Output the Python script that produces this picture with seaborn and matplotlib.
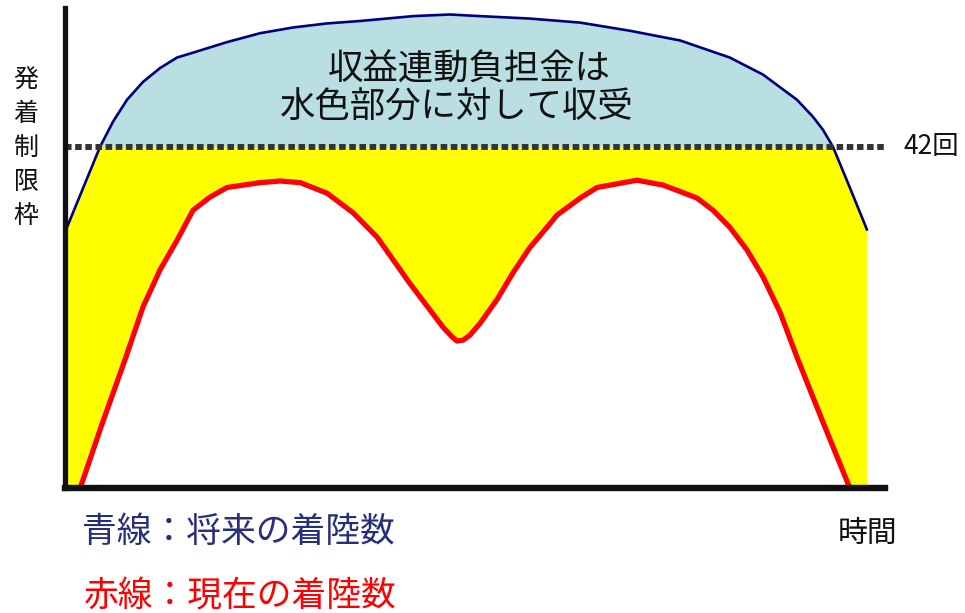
import numpy as np
import pandas as pd
import matplotlib
matplotlib.use("Agg")
import matplotlib.pyplot as plt
import seaborn as sns

# Time axis (arbitrary units, 0 = start of day, 100 = end of day)
future_t = [0.0, 4.375, 6.0, 7.75, 9.75, 11.875, 14.0, 16.0, 20.25, 24.4,
            28.5, 32.75, 36.9, 43.5, 48.1, 51.9, 58.1, 64.4, 70.6, 76.9,
            83.1, 87.25, 91.5, 93.5, 94.75, 96.0, 98.1, 100.25]
# Blue line: future landing count
future_v = [31.5, 42.0, 45.1, 47.8, 50.0, 51.7, 53.0, 53.6, 54.9, 56.0,
            56.7, 57.2, 57.5, 58.1, 58.3, 58.1, 57.8, 57.3, 56.3, 55.1,
            53.0, 50.9, 47.8, 45.7, 44.1, 42.0, 37.0, 31.8]

current_t = [1.9, 4.6, 7.5, 9.75, 11.9, 14.0, 16.0, 18.1, 20.25, 24.4,
             26.9, 29.4, 32.75, 36.0, 39.0, 43.1, 47.25, 48.4, 49.0, 49.75,
             50.6, 51.9, 54.0, 56.0, 58.1, 60.25, 61.5, 64.4, 66.5, 71.5,
             74.75, 76.9, 79.0, 81.0, 83.1, 85.25, 87.25, 89.4, 91.5, 94.75,
             98.1]
# Red line: current landing count
current_v = [0.0, 7.8, 15.8, 22.3, 26.9, 30.5, 34.2, 35.8, 37.0, 37.6,
             37.8, 37.6, 36.3, 33.9, 30.9, 25.2, 19.8, 18.6, 18.1, 18.2,
             18.8, 20.3, 23.2, 26.5, 29.6, 32.1, 33.6, 35.7, 37.0, 37.9,
             37.3, 36.5, 35.7, 34.2, 32.1, 29.3, 26.0, 21.6, 16.1, 8.1,
             0.0]

cap_value = 42
cap_label = "42回"
y_label = "発着制限枠"
x_label = "時間"
note_lines = ["収益連動負担金は", "水色部分に対して収受"]
legend_blue = "青線：将来の着陸数"
legend_red = "赤線：現在の着陸数"

sns.set_theme(style="white")
plt.rcParams["font.family"] = ["Noto Sans CJK JP", "DejaVu Sans"]

W, H = 965, 613
fig = plt.figure(figsize=(W / 100, H / 100), dpi=100)
ax = fig.add_axes([65 / W, (H - 488) / H, (885 - 65) / W, (488 - 8) / H])
ax.set_xlim(0, 102.5)
ax.set_ylim(0, 59.1)

ft = np.array(future_t)
fv = np.array(future_v)
ct = np.array(current_t)
cv = np.array(current_v)

# Yellow band: from the current curve up to the lower of the future curve and the cap
upper_v = np.minimum(fv, cap_value)
poly_x = np.concatenate([[0.0], ft, [ft[-1]], ct[::-1]])
poly_y = np.concatenate([[0.0], upper_v, [0.0], cv[::-1]])
ax.fill(poly_x, poly_y, color="#FFFF00", lw=0, zorder=1)

# Light-blue area above the cap, under the future curve
ax.fill_between(ft, fv, cap_value, where=fv >= cap_value,
                color="#B9DFE3", lw=0, zorder=1)

df_future = pd.DataFrame({"t": future_t, "v": future_v})
df_current = pd.DataFrame({"t": current_t, "v": current_v})
sns.lineplot(data=df_current, x="t", y="v", sort=False, ax=ax,
             color="#FF0000", lw=3.8, solid_joinstyle="round",
             solid_capstyle="round", zorder=3)
sns.lineplot(data=df_future, x="t", y="v", sort=False, ax=ax,
             color="#000080", lw=1.9, solid_joinstyle="round", zorder=3)

# Landing cap (dotted)
ax.axhline(cap_value, color="#333333", lw=4.3,
           linestyle=(0, (1.1, 0.6)), dash_capstyle="butt", zorder=4)

ax.set_xlabel("")
ax.set_ylabel("")
ax.set_xticks([])
ax.set_yticks([])
for side in ("top", "right"):
    ax.spines[side].set_visible(False)
ax.spines["left"].set_linewidth(3.8)
ax.spines["bottom"].set_linewidth(4.6)
ax.spines["left"].set_color("#111111")
ax.spines["bottom"].set_color("#111111")
ax.spines["left"].set_zorder(5)
ax.spines["bottom"].set_zorder(5)


def px(x, y):
    return x / W, 1 - y / H


# Vertical y-axis label, one character per row
for i, ch in enumerate(y_label):
    fig.text(*px(26, 80 + 34 * i), ch, fontsize=18, ha="center",
             va="center", color="#111111")

fig.text(*px(904, 147), cap_label, fontsize=19, ha="left", va="center",
         color="#111111")
fig.text(*px(868, 533), x_label, fontsize=21.5, ha="center", va="center",
         color="#111111")

fig.text(*px(328, 70), note_lines[0], fontsize=25.5, ha="left",
         va="center", color="#111111")
fig.text(*px(280, 108), note_lines[1], fontsize=25.5, ha="left",
         va="center", color="#111111")

fig.text(*px(82, 532), legend_blue, fontsize=25, ha="left", va="center",
         color="#262F7D")
fig.text(*px(84, 597), legend_red, fontsize=25, ha="left", va="center",
         color="#FF0000")

fig.savefig("out.png", dpi=100)
